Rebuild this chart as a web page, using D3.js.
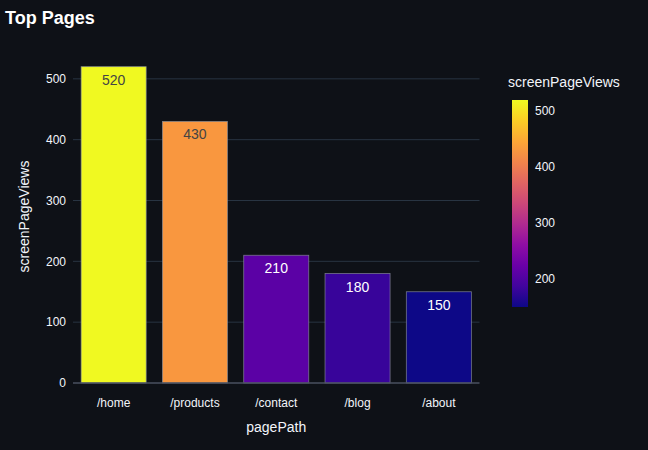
<!DOCTYPE html>
<html>
<head>
<meta charset="utf-8">
<script src="https://cdn.jsdelivr.net/npm/d3@7"></script>
<style>
  body { margin: 0; background: #0e1117; }
  text { font-family: "Liberation Sans", Arial, sans-serif; }
</style>
</head>
<body>
<div id="chart"></div>
<script>
var pages = ["/home", "/products", "/contact", "/blog", "/about"];
var views = [520, 430, 210, 180, 150];
var yTicks = [0, 100, 200, 300, 400, 500];
var barTicks = [200, 300, 400, 500];

var width = 648, height = 450;
var margin = {left: 73, right: 168, top: 50, bottom: 67};

var svg = d3.select("#chart").append("svg")
    .attr("width", width)
    .attr("height", height)
    .style("background", "#0e1117");

var xscale = d3.scaleBand()
    .domain(pages)
    .range([margin.left, 479.5])
    .paddingInner(0.2)
    .paddingOuter(0.1);

var yscale = d3.scaleLinear()
    .domain([0, 547.4])
    .range([height - margin.bottom, margin.top]);

var cmin = d3.min(views), cmax = d3.max(views);
var color = d3.scaleSequential(d3.interpolatePlasma).domain([cmin, cmax]);

// gridlines
svg.append("g").selectAll("line")
    .data(yTicks.filter(d => d > 0))
    .enter().append("line")
    .attr("x1", margin.left).attr("x2", 479.5)
    .attr("y1", d => yscale(d)).attr("y2", d => yscale(d))
    .attr("stroke", "#283442").attr("stroke-width", 1);

// y tick labels
svg.append("g").selectAll("text")
    .data(yTicks)
    .enter().append("text")
    .attr("x", margin.left - 7)
    .attr("y", d => yscale(d))
    .attr("dy", "0.35em")
    .attr("text-anchor", "end")
    .attr("fill", "#f2f5fa")
    .style("font-size", "12px")
    .text(d => d);

// bars
svg.append("g").selectAll("rect")
    .data(views)
    .enter().append("rect")
    .attr("x", (d, i) => xscale(pages[i]))
    .attr("y", d => yscale(d))
    .attr("width", xscale.bandwidth())
    .attr("height", d => yscale(0) - yscale(d))
    .attr("fill", d => color(d))
    .attr("stroke", "#8a8f99")
    .attr("stroke-opacity", 0.8)
    .attr("stroke-width", 0.8);

// value labels
svg.append("g").selectAll("text")
    .data(views)
    .enter().append("text")
    .attr("x", (d, i) => xscale(pages[i]) + xscale.bandwidth() / 2)
    .attr("y", d => yscale(d) + 18)
    .attr("text-anchor", "middle")
    .attr("fill", d => d > 350 ? "#444444" : "#ffffff")
    .style("font-size", "14px")
    .text(d => d);

// zero line
svg.append("line")
    .attr("x1", margin.left).attr("x2", 479.5)
    .attr("y1", yscale(0)).attr("y2", yscale(0))
    .attr("stroke", "#4a5060").attr("stroke-width", 1.5);

// x tick labels
svg.append("g").selectAll("text")
    .data(pages)
    .enter().append("text")
    .attr("x", d => xscale(d) + xscale.bandwidth() / 2)
    .attr("y", yscale(0) + 24)
    .attr("text-anchor", "middle")
    .attr("fill", "#f2f5fa")
    .style("font-size", "12px")
    .text(d => d);

// axis titles
svg.append("text")
    .attr("x", (margin.left + 479.5) / 2)
    .attr("y", 432)
    .attr("text-anchor", "middle")
    .attr("fill", "#f2f5fa")
    .style("font-size", "14px")
    .text("pagePath");

svg.append("text")
    .attr("transform", "translate(29," + ((margin.top + yscale(0)) / 2) + ")rotate(-90)")
    .attr("text-anchor", "middle")
    .attr("fill", "#f2f5fa")
    .style("font-size", "14px")
    .text("screenPageViews");

// title
svg.append("text")
    .attr("x", 5).attr("y", 24)
    .attr("fill", "#ffffff")
    .style("font-size", "18px")
    .style("font-weight", "bold")
    .text("Top Pages");

// colorbar
var cbTop = 100, cbBottom = 307, cbX = 512, cbW = 16;
var cscale = d3.scaleLinear().domain([cmin, cmax]).range([cbBottom, cbTop]);

var defs = svg.append("defs");
var grad = defs.append("linearGradient")
    .attr("id", "cbgrad")
    .attr("x1", "0").attr("y1", "1").attr("x2", "0").attr("y2", "0");
d3.range(0, 1.0001, 0.1).forEach(function(t) {
    grad.append("stop")
        .attr("offset", t)
        .attr("stop-color", d3.interpolatePlasma(t));
});

svg.append("rect")
    .attr("x", cbX).attr("y", cbTop)
    .attr("width", cbW).attr("height", cbBottom - cbTop)
    .attr("fill", "url(#cbgrad)");

svg.append("g").selectAll("text")
    .data(barTicks)
    .enter().append("text")
    .attr("x", cbX + cbW + 7)
    .attr("y", d => cscale(d))
    .attr("dy", "0.35em")
    .attr("fill", "#f2f5fa")
    .style("font-size", "12px")
    .text(d => d);

svg.append("text")
    .attr("x", 508).attr("y", 87)
    .attr("fill", "#f2f5fa")
    .style("font-size", "14px")
    .text("screenPageViews");
</script>
</body>
</html>
